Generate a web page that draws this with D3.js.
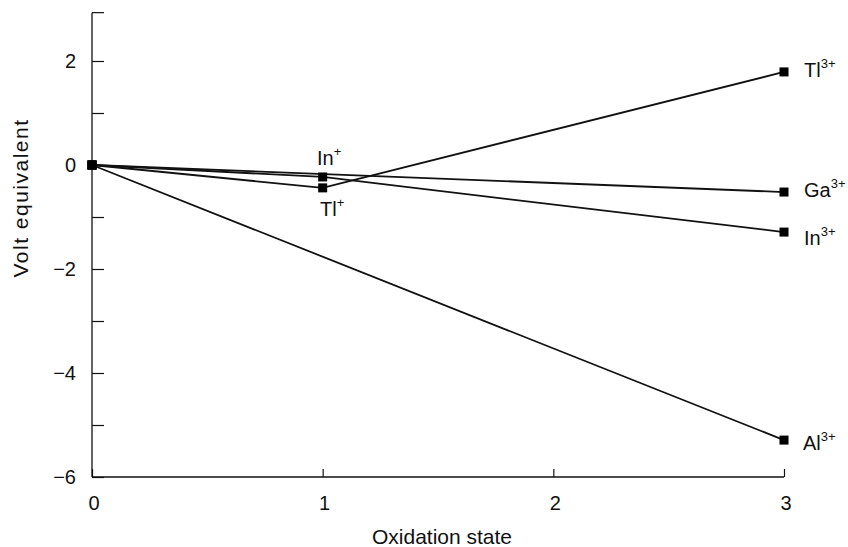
<!DOCTYPE html>
<html>
<head>
<meta charset="utf-8">
<script src="https://cdn.jsdelivr.net/npm/d3@7"></script>
<style>
  body { margin: 0; background: #fff; }
  svg text { font-family: "Liberation Sans", Arial, sans-serif; fill: #111; }
</style>
</head>
<body>
<div id="chart"></div>
<script>
// oxidation state vs volt equivalent, group 13
var oxStates = [0, 1, 2, 3];
var yTicks = [-6, -5, -4, -3, -2, -1, 0, 1, 2];
var yLabelTicks = [-6, -4, -2, 0, 2];

var alPoints = [[0, 0], [3, -5.29]];
var gaPoints = [[0, 0], [3, -0.52]];
var inPoints = [[0, 0], [1, -0.23], [3, -1.29]];
var tlPoints = [[0, 0], [1, -0.44], [3, 1.79]];

var series = [alPoints, gaPoints, inPoints, tlPoints];

var width = 848, height = 547;

var x = d3.scaleLinear().domain([0, 3]).range([92, 784]);
var y = d3.scaleLinear().domain([-6, 3]).range([477, 9]);

var svg = d3.select("#chart").append("svg")
  .attr("width", width)
  .attr("height", height);

// Y axis (ticks pointing into the plot)
var yAxis = svg.append("g")
  .attr("transform", "translate(" + x(0) + ",0)")
  .call(d3.axisRight(y).tickValues(yTicks).tickSize(12).tickFormat(""));
yAxis.select(".domain").attr("stroke", "#111").attr("stroke-width", 1.3).attr("d", "M0," + y(2.93) + "V" + y(-6));
yAxis.selectAll(".tick line").attr("stroke", "#111").attr("stroke-width", 1.2);
// small cap at the top of the axis
yAxis.append("line")
  .attr("x1", 0).attr("x2", 12)
  .attr("y1", y(2.93)).attr("y2", y(2.93))
  .attr("stroke", "#111").attr("stroke-width", 1.2);

svg.selectAll(".ylab")
  .data(yLabelTicks)
  .enter().append("text")
  .attr("class", "ylab")
  .attr("x", 76)
  .attr("y", function(d) { return y(d) + 7; })
  .attr("text-anchor", "end")
  .style("font-size", "20px")
  .text(function(d) { return d < 0 ? "\u2212" + Math.abs(d) : d; });

// X axis (ticks pointing up)
var xAxis = svg.append("g")
  .attr("transform", "translate(0," + y(-6) + ")")
  .call(d3.axisTop(x).tickValues(oxStates).tickSize(8).tickFormat(""));
xAxis.select(".domain").attr("stroke", "#111").attr("stroke-width", 1.3).attr("d", "M" + x(0) + ",0H" + x(3));
xAxis.selectAll(".tick line").attr("stroke", "#111").attr("stroke-width", 1.2);

svg.selectAll(".xlab")
  .data(oxStates)
  .enter().append("text")
  .attr("class", "xlab")
  .attr("x", function(d) { return x(d) + 2; })
  .attr("y", y(-6) + 33)
  .attr("text-anchor", "middle")
  .style("font-size", "20px")
  .text(function(d) { return d; });

// axis titles
svg.append("text")
  .attr("x", 442)
  .attr("y", 544)
  .attr("text-anchor", "middle")
  .style("font-size", "21px")
  .text("Oxidation state");

svg.append("text")
  .attr("transform", "translate(28,198) rotate(-90)")
  .attr("text-anchor", "middle")
  .style("font-size", "21px")
  .style("letter-spacing", "1.5px")
  .text("Volt equivalent");

// lines
var line = d3.line()
  .x(function(d) { return x(d[0]); })
  .y(function(d) { return y(d[1]); });

svg.selectAll(".series")
  .data(series)
  .enter().append("path")
  .attr("class", "series")
  .attr("d", line)
  .attr("fill", "none")
  .attr("stroke", "#111")
  .attr("stroke-width", 1.8);

// square markers
var allPoints = [];
series.forEach(function(s) { s.forEach(function(p) { allPoints.push(p); }); });
svg.selectAll(".pt")
  .data(allPoints)
  .enter().append("rect")
  .attr("class", "pt")
  .attr("x", function(d) { return x(d[0]) - 4.5; })
  .attr("y", function(d) { return y(d[1]) - 4.5; })
  .attr("width", 9)
  .attr("height", 9)
  .attr("fill", "#000");

// ion labels
function ionLabel(px, py, name, charge) {
  var t = svg.append("text")
    .attr("x", px)
    .attr("y", py)
    .style("font-size", "20px");
  t.append("tspan").text(name);
  t.append("tspan").attr("dy", -9).style("font-size", "13px").text(charge);
}

ionLabel(804, 77, "Tl", "3+");
ionLabel(804, 197, "Ga", "3+");
ionLabel(804, 245, "In", "3+");
ionLabel(803, 450, "Al", "3+");
ionLabel(317, 165, "In", "+");
ionLabel(320, 216, "Tl", "+");
</script>
</body>
</html>
